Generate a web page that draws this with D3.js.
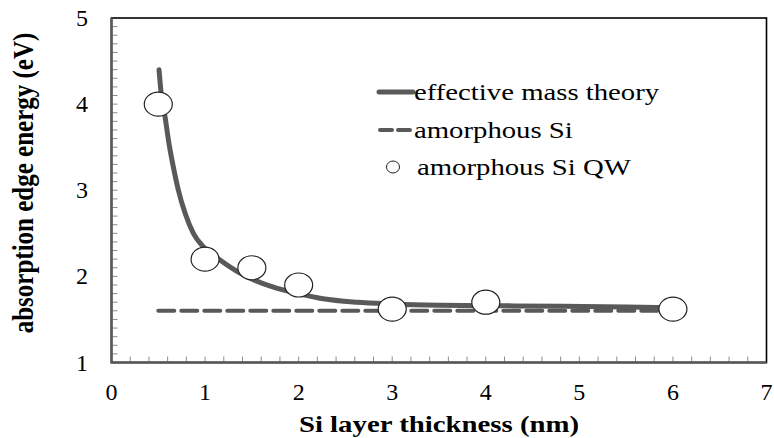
<!DOCTYPE html>
<html><head><meta charset="utf-8">
<script src="https://cdn.jsdelivr.net/npm/d3@7"></script>
<style>html,body{margin:0;padding:0;background:#fff;} svg{display:block;} text{font-family:"Liberation Serif","Times New Roman",Times,serif;fill:#000;}</style>
</head><body>
<svg id="chart" width="774" height="438"></svg>
<script>
// ---- data ----
const xTicks = [0, 1, 2, 3, 4, 5, 6, 7];
const yTicks = [1, 2, 3, 4, 5];
const qwThickness = [0.5, 1, 1.5, 2, 3, 4, 6];
const qwEnergy = [4.0, 2.2, 2.1, 1.9, 1.62, 1.7, 1.62];
const emtThickness = [0.508, 0.529, 0.572, 0.614, 0.661, 0.714, 0.786, 0.875, 0.98, 1.16, 1.37, 1.5, 1.73, 2.0, 2.26, 2.62, 3.0, 3.5, 4.0, 4.83, 5.5, 6.0];
const emtEnergy = [4.40, 4.145, 3.854, 3.545, 3.27, 3.003, 2.735, 2.50, 2.345, 2.19, 2.04, 1.97, 1.875, 1.80, 1.74, 1.70, 1.68, 1.665, 1.66, 1.652, 1.643, 1.635];
const aSiThickness = [0.5, 6];
const aSiEnergy = [1.6, 1.6];
const legendLabels = ["effective mass theory", "amorphous Si", "amorphous Si QW"];
const xTitle = "Si layer thickness (nm)";
const yTitle = "absorption edge energy (eV)";

// ---- layout ----
const svg = d3.select("#chart");
const L = 111.5, R = 766.5, T = 18, B = 362.5;
const x = d3.scaleLinear().domain([0, 7]).range([L, R]);
const y = d3.scaleLinear().domain([1, 5]).range([B, T]);
const grey = "#595959";
const SX = 1.2;

// frame
svg.append("rect").attr("x", L).attr("y", T).attr("width", R - L).attr("height", B - T)
  .attr("fill", "none").attr("stroke", "#000").attr("stroke-width", 1.6);

// minor ticks
const yMinor = d3.range(11, 50).map(v => v / 10);
svg.append("g").selectAll("line").data(yMinor).join("line")
  .attr("x1", L).attr("x2", L + 6).attr("y1", d => y(d)).attr("y2", d => y(d))
  .attr("stroke", "#8c8c8c").attr("stroke-width", 1);
const xMinor = d3.range(1, 35).map(v => v / 5);
svg.append("g").selectAll("line").data(xMinor).join("line")
  .attr("x1", d => x(d)).attr("x2", d => x(d)).attr("y1", B).attr("y2", B - 6)
  .attr("stroke", "#8c8c8c").attr("stroke-width", 1);

// axes lines
svg.append("line").attr("x1", L).attr("x2", L).attr("y1", T).attr("y2", B)
  .attr("stroke", grey).attr("stroke-width", 2.5);
svg.append("line").attr("x1", L - 1).attr("x2", R).attr("y1", B).attr("y2", B)
  .attr("stroke", grey).attr("stroke-width", 2.5);

// tick labels
svg.append("g").selectAll("text").data(yTicks).join("text")
  .attr("transform", d => `translate(88,${y(d) + 8})`)
  .attr("text-anchor", "end").attr("font-size", 24)
  .text(d => d);
svg.append("g").selectAll("text").data(xTicks).join("text")
  .attr("transform", d => `translate(${x(d)},400)`)
  .attr("text-anchor", "middle").attr("font-size", 24)
  .text(d => d);

// titles
svg.append("text").attr("transform", `translate(439,432) scale(${SX},1)`)
  .attr("text-anchor", "middle").attr("font-size", 24)
  .attr("font-weight", "bold").text(xTitle);
svg.append("text").attr("transform", `translate(33,183) rotate(-90) scale(1,${SX})`)
  .attr("text-anchor", "middle").attr("font-size", 25)
  .attr("font-weight", "bold").text(yTitle);

// a-Si dashed line
const line = d3.line().x(d => x(d[0])).y(d => y(d[1]));
svg.append("path").datum(d3.zip(aSiThickness, aSiEnergy)).attr("d", line)
  .attr("fill", "none").attr("stroke", grey).attr("stroke-width", 4)
  .attr("stroke-dasharray", "16,7").attr("stroke-linecap", "round");

// EMT curve
const curve = d3.line().x(d => x(d[0])).y(d => y(d[1])).curve(d3.curveMonotoneX);
svg.append("path").datum(d3.zip(emtThickness, emtEnergy)).attr("d", curve)
  .attr("fill", "none").attr("stroke", grey).attr("stroke-width", 5)
  .attr("stroke-linecap", "round");

// QW points
svg.append("g").selectAll("ellipse").data(d3.zip(qwThickness, qwEnergy)).join("ellipse")
  .attr("cx", d => x(d[0])).attr("cy", d => y(d[1])).attr("rx", 14).attr("ry", 12)
  .attr("fill", "#fff").attr("stroke", "#222").attr("stroke-width", 1.2);

// legend
const lg = svg.append("g");
lg.append("line").attr("x1", 379).attr("x2", 413).attr("y1", 92).attr("y2", 92)
  .attr("stroke", grey).attr("stroke-width", 5).attr("stroke-linecap", "round");
lg.append("line").attr("x1", 380).attr("x2", 412).attr("y1", 130).attr("y2", 130)
  .attr("stroke", grey).attr("stroke-width", 4).attr("stroke-dasharray", "12,6")
  .attr("stroke-linecap", "round");
lg.append("ellipse").attr("cx", 393).attr("cy", 167).attr("rx", 6.5).attr("ry", 6)
  .attr("fill", "#fff").attr("stroke", "#222").attr("stroke-width", 1);
const ly = [100, 138, 175];
legendLabels.forEach((t, i) => {
  lg.append("text").attr("transform", `translate(${i === 2 ? 417 : 414},${ly[i]}) scale(1.25,1)`)
    .attr("font-size", 23).text(t);
});
</script>
</body></html>
